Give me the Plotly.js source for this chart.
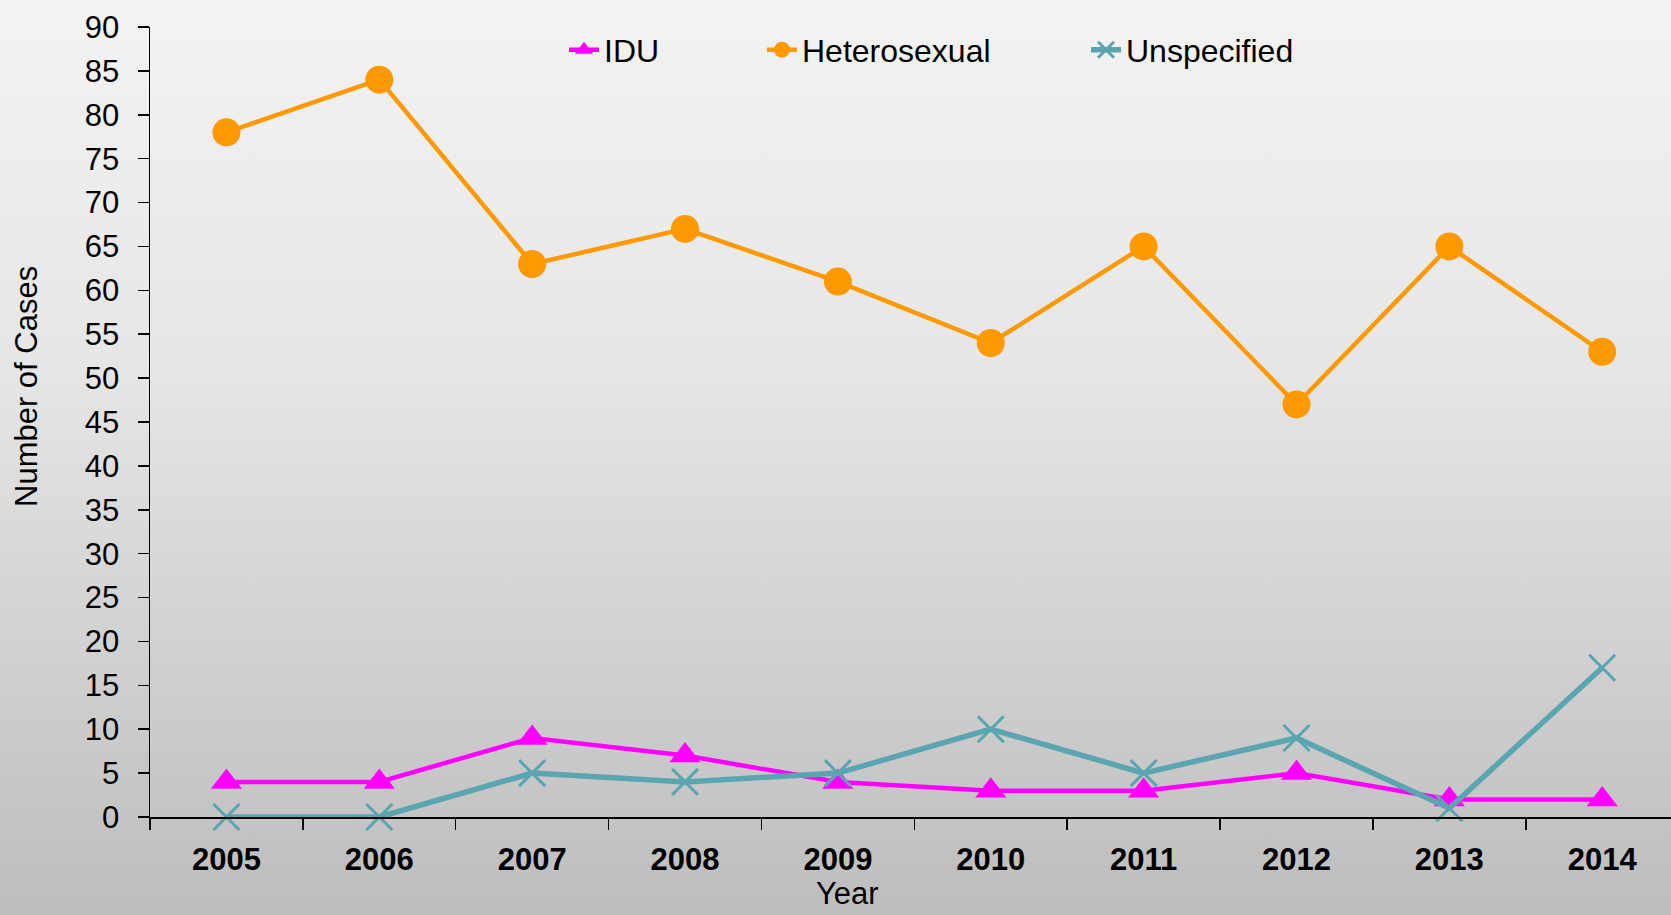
<!DOCTYPE html>
<html>
<head>
<meta charset="utf-8">
<script src="https://cdn.plot.ly/plotly-3.0.1.min.js"></script>
<style>
html, body { margin: 0; padding: 0; }
#chart { width: 1671px; height: 915px; background: linear-gradient(to bottom, #f3f3f3 0%, #e6e6e6 40%, #bdbdbd 100%); }
</style>
</head>
<body>
<div id="chart"></div>
<script>
const years = ['2005', '2006', '2007', '2008', '2009', '2010', '2011', '2012', '2013', '2014'];
const idu = [4, 4, 9, 7, 4, 3, 3, 5, 2, 2];
const heterosexual = [78, 84, 63, 67, 61, 54, 65, 47, 65, 53];
const unspecified = [0, 0, 5, 4, 5, 10, 5, 9, 1, 17];
const seriesNames = ['IDU', 'Heterosexual', 'Unspecified'];
const xTitle = 'Year';
const yTitle = 'Number of Cases';

const FONT = '"Liberation Sans Narrow", "Arial Narrow", "Liberation Sans", Arial, sans-serif';

const traces = [
  {
    x: years, y: idu, name: seriesNames[0], type: 'scatter', mode: 'lines+markers', legend: 'legend',
    line: { color: '#ff00ff', width: 4.5 },
    marker: { symbol: 'triangle-up', size: 27, color: '#ff00ff' },
    cliponaxis: false
  },
  {
    x: years, y: heterosexual, name: seriesNames[1], type: 'scatter', mode: 'lines+markers', legend: 'legend2',
    line: { color: '#ff9900', width: 4.5 },
    marker: { symbol: 'circle', size: 28, color: '#ff9900' },
    cliponaxis: false
  },
  {
    x: years, y: unspecified, name: seriesNames[2], type: 'scatter', mode: 'lines+markers', legend: 'legend3',
    line: { color: '#5aa5b0', width: 5.5 },
    marker: { symbol: 'x-thin', size: 26, color: '#5aa5b0', line: { color: '#5aa5b0', width: 3 } },
    cliponaxis: false
  }
];

function legendAt(textStart) {
  return {
    orientation: 'h', x: (textStart - 40 - 150) / 1521, xanchor: 'left', y: 0.971, yanchor: 'middle',
    bgcolor: 'rgba(0,0,0,0)',
    font: { family: FONT, size: 32, color: '#000' }
  };
}

const layout = {
  width: 1671, height: 915,
  margin: { l: 150, r: 0, t: 27, b: 98 },
  paper_bgcolor: 'rgba(0,0,0,0)',
  plot_bgcolor: 'rgba(0,0,0,0)',
  font: { family: FONT, size: 31, color: '#000' },
  showlegend: true,
  legend: legendAt(604),
  legend2: legendAt(802),
  legend3: legendAt(1126),
  xaxis: {
    type: 'category', range: [-0.5, 9.45],
    showline: true, linecolor: '#000', linewidth: 1.5,
    ticks: 'outside', tickson: 'boundaries', ticklen: 11, tickwidth: 1.5, tickcolor: '#000',
    showgrid: false, zeroline: false,
    tickfont: { family: FONT, size: 31, color: '#000', weight: 'bold' },
    ticklabelstandoff: 14
  },
  yaxis: {
    range: [0, 90], dtick: 5, tick0: 0,
    showline: true, linecolor: '#000', linewidth: 1.5,
    ticks: 'outside', ticklen: 11, tickwidth: 1.5, tickcolor: '#000',
    showgrid: false, zeroline: false,
    tickfont: { family: FONT, size: 31, color: '#000' },
    ticklabelstandoff: 12
  },
  annotations: [
    {
      text: xTitle, xref: 'paper', yref: 'paper', x: (847 - 150) / 1521, y: (817 - 893) / 790,
      xanchor: 'center', yanchor: 'middle', showarrow: false,
      font: { family: FONT, size: 31, color: '#000' }
    },
    {
      text: yTitle, xref: 'paper', yref: 'paper', x: (26 - 150) / 1521, y: (817 - 387) / 790,
      xanchor: 'center', yanchor: 'middle', showarrow: false, textangle: -90,
      font: { family: FONT, size: 31, color: '#000' }
    }
  ]
};

Plotly.newPlot('chart', traces, layout, { displayModeBar: false, staticPlot: true });
</script>
</body>
</html>
